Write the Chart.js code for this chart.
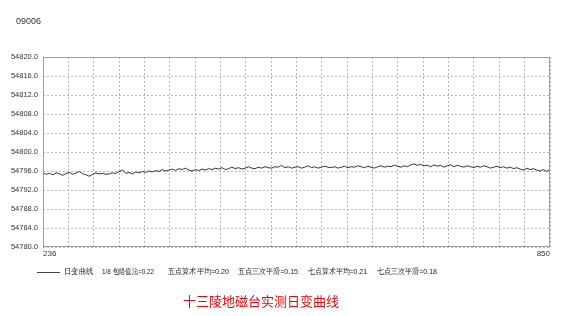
<!DOCTYPE html>
<html><head><meta charset="utf-8">
<script src="https://cdn.jsdelivr.net/npm/chart.js@4/dist/chart.umd.min.js"></script>
<style>html,body{margin:0;padding:0;background:#fff;}#wrap{width:561px;height:316px;position:relative;}</style>
</head><body><div id="wrap"><canvas id="c" width="561" height="316"></canvas></div>
<script>
const stationCode = "09006";
const chartTitle = "十三陵地磁台实测日变曲线";
const seriesName = "日变曲线";
const legendStats = ["1/8 包络值法=0.22", "五点算术平均=0.20", "五点三次平滑=0.15", "七点算术平均=0.21", "七点三次平滑=0.18"];
const xStart = 236;
const xEnd = 850;
const yMin = 54780, yMax = 54820, yStep = 4;
const values = [
54795.6,54795.3,54795.5,54795.2,54795.6,54795.4,54795.1,54795.5,54795.7,54795.3,54795.6,54795.9,54795.4,54795.2,54794.9,54795.3,54795.6,54795.4,54795.5,54795.3,54795.4,54795.6,54795.5,54795.9,54796.2,54795.5,54795.7,54795.4,54795.8,54795.6,54795.9,54795.7,54796.0,54795.8,54796.1,54795.9,54796.3,54796.0,
54796.2,54796.4,54796.1,54796.5,54796.3,54796.6,54796.2,54796.0,54796.3,54796.1,54796.4,54796.2,54796.5,54796.3,54796.6,54796.4,54796.7,54796.3,54796.5,54796.8,54796.5,54796.7,54796.4,54796.6,54796.9,54796.6,54796.5,54796.8,54796.6,54796.9,54796.7,54796.6,54796.9,54796.8,54797.2,54796.7,54796.9,54796.6,54796.8,
54796.9,54796.6,54796.8,54797.1,54796.7,54796.9,54796.6,54796.8,54797.0,54796.8,54796.7,54796.9,54796.6,54796.8,54797.0,54796.7,54796.9,54796.8,54797.1,54796.9,54796.7,54797.0,54796.8,54796.6,54796.9,54797.1,54796.8,54797.0,54796.9,54797.2,54797.0,54796.8,54797.1,54796.9,54797.3,54797.5,54797.2,54797.4,54797.1,
54797.2,54796.9,54797.3,54797.0,54797.2,54796.8,54797.1,54797.3,54796.9,54797.2,54797.0,54796.8,54797.1,54796.9,54796.7,54797.0,54796.8,54797.1,54796.9,54796.6,54796.8,54797.0,54796.7,54796.9,54796.6,54796.8,54796.5,54796.7,54796.4,54796.2,54796.6,54796.3,54796.5,54796.2,54796.0,54796.3,54795.9,54796.4
];
const points = values.map((v, i) => ({x: xStart + i * (xEnd - xStart) / (values.length - 1), y: v}));

const FONT = "'Liberation Sans', Arial, sans-serif";
const decor = {
  id: 'decor',
  afterDraw(chart) {
    const ctx = chart.ctx, a = chart.chartArea;
    ctx.save();
    ctx.strokeStyle = '#a0a0a0'; ctx.lineWidth = 1;
    ctx.strokeRect(Math.round(a.left) + 0.5, Math.round(a.top) + 0.5, Math.round(a.right - a.left) - 1, Math.round(a.bottom - a.top) - 1);
    ctx.fillStyle = '#333';
    ctx.font = '9px ' + FONT;
    ctx.textBaseline = 'middle';
    ctx.textAlign = 'left';
    ctx.fillText(stationCode, 16, 22);
    // legend
    const ly = 272;
    ctx.strokeStyle = '#444'; ctx.lineWidth = 1;
    ctx.beginPath(); ctx.moveTo(37, ly + 0.5); ctx.lineTo(60, ly + 0.5); ctx.stroke();
    ctx.font = '8px ' + FONT;
    ctx.fillStyle = '#222';
    ctx.fillText(seriesName, 64, ly, 29);
    const lx = [102, 168, 238, 308, 377];
    const lw = [52, 61, 60, 59, 60];
    legendStats.forEach((t, i) => ctx.fillText(t, lx[i], ly, lw[i]));
    ctx.fillStyle = '#d01010';
    ctx.font = '13px ' + "'Noto Sans CJK SC', sans-serif";
    ctx.textAlign = 'center';
    ctx.fillText(chartTitle, 261, 301);
    ctx.restore();
  }
};

new Chart(document.getElementById('c'), {
  type: 'line',
  data: { datasets: [{ label: seriesName, data: points, borderColor: '#333', borderWidth: 1, pointRadius: 0, tension: 0, fill: false }] },
  options: {
    responsive: false, animation: false, events: [],
    layout: { padding: { left: 0, top: 57, right: 11, bottom: 55 } },
    plugins: { legend: { display: false }, tooltip: { enabled: false } },
    scales: {
      x: {
        type: 'linear', min: xStart, max: xEnd,
        afterBuildTicks(s) { const t = []; for (let k = 0; k <= 20; k++) t.push({ value: xStart + k * (xEnd - xStart) / 20 }); s.ticks = t; },
        afterFit(s) { s.height = 14; },
        grid: { color: '#b8b8b8', drawTicks: false },
        border: { display: false, dash: [2, 2] },
        ticks: { autoSkip: false, maxRotation: 0, align: 'inner', padding: 2, color: '#333', font: { size: 8, family: FONT },
          callback(v, i, arr) { return (i === 0 || i === arr.length - 1) ? String(Math.round(v)) : ''; } }
      },
      y: {
        min: yMin, max: yMax,
        afterFit(s) { s.width = 43; },
        grid: { color: '#b8b8b8', drawTicks: false },
        border: { display: false, dash: [2, 2] },
        ticks: { stepSize: yStep, padding: 5, color: '#333', font: { size: 7.5, family: FONT }, callback(v) { return Number(v).toFixed(1); } }
      }
    }
  },
  plugins: [decor]
});
</script></body></html>
